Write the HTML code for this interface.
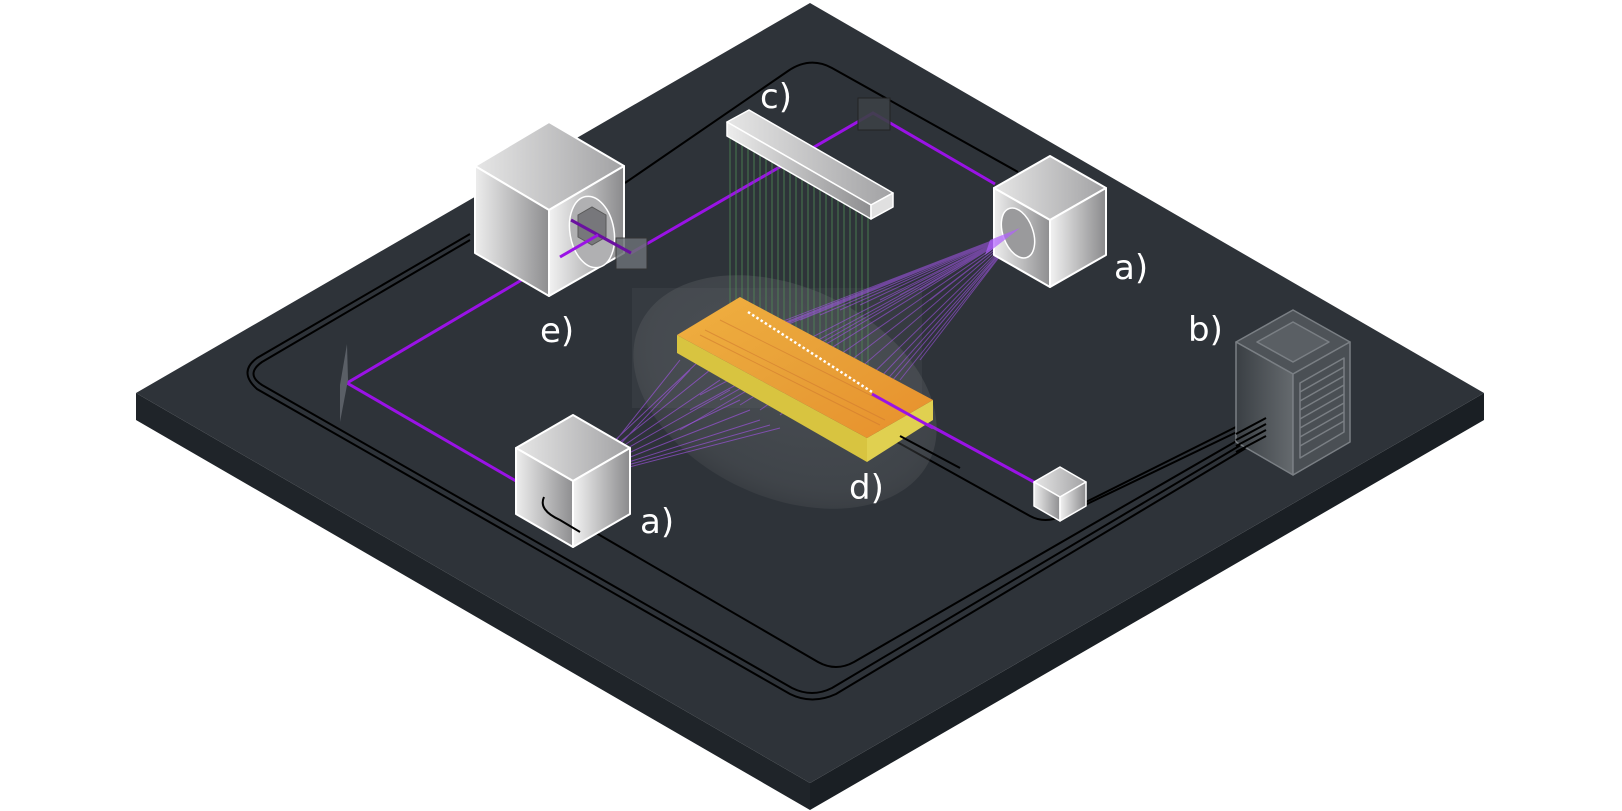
<!DOCTYPE html>
<html><head><meta charset="utf-8"><style>
html,body{margin:0;padding:0;background:#fff;}
svg{display:block;}
text{font-family:"DejaVu Sans","Liberation Sans",sans-serif;fill:#fff;font-size:34px;}
</style></head><body>
<svg width="1622" height="811" viewBox="0 0 1622 811" xmlns="http://www.w3.org/2000/svg">
<defs>
<linearGradient id="gl" x1="0" x2="1" y1="0" y2="0"><stop offset="0" stop-color="#ededed"/><stop offset="1" stop-color="#8e8e90"/></linearGradient>
<linearGradient id="gr" x1="0" x2="1" y1="0" y2="0"><stop offset="0" stop-color="#f2f2f2"/><stop offset="1" stop-color="#8a8a8c"/></linearGradient>
<linearGradient id="gt" x1="0" x2="1" y1="0" y2="0"><stop offset="0" stop-color="#e6e6e6"/><stop offset="1" stop-color="#a2a2a4"/></linearGradient>
<linearGradient id="rk" x1="0" x2="1"><stop offset="0" stop-color="#3a3f44"/><stop offset="1" stop-color="#656a6e"/></linearGradient>
<linearGradient id="chip" x1="0" x2="1" y1="0" y2="1"><stop offset="0" stop-color="#f0b040"/><stop offset="0.5" stop-color="#e8a038"/><stop offset="1" stop-color="#e8902c"/></linearGradient>
<radialGradient id="dome" cx="0.5" cy="0.45" r="0.55"><stop offset="0" stop-color="#666a6e" stop-opacity="0.45"/><stop offset="0.8" stop-color="#6a6e72" stop-opacity="0.3"/><stop offset="1" stop-color="#888" stop-opacity="0.12"/></radialGradient>
</defs>
<polygon points="136,393 810,783 810,810 136,420" fill="#1f2429"/>
<polygon points="810,783 1484,393 1484,420 810,810" fill="#1a1f24"/>
<polygon points="810,3 1484,393 810,783 136,393" fill="#2e3339"/>
<g fill="none" stroke="#000" stroke-width="2">
<path d="M 625,183 L 788,71 Q 810,56 832,68 L 1018,172"/>
<path d="M 470,240 L 262,362 Q 245,374 262,385 L 792,688 Q 812,698 832,688 L 1266,430"/>
<path d="M 470,234 L 257,358 Q 238,372 257,389 L 790,694 Q 812,705 836,694 L 1266,436"/>
<path d="M 542,487 Q 535,500 560,512 L 818,662 Q 836,672 854,662 L 1266,424"/>
<path d="M 872,428 L 1030,516 Q 1045,524 1062,516 L 1266,418"/>
<path d="M 1045,508 Q 1062,514 1080,505 L 1266,412"/>
</g>
<g fill="none" stroke="#9a12e6" stroke-width="3">
<polyline points="571,220 631,253 873,113 995,184"/>
<polyline points="598,235 347,383 516,481"/>
<line x1="872" y1="394" x2="1034" y2="482"/>
</g>
<rect x="858" y="98" width="32" height="32" fill="#3c4146" stroke="#222" stroke-width="1" opacity="0.9"/>
<polygon points="347,344 340,385 340,422 348,380" fill="#5a5f66"/>
<rect x="632" y="288" width="290" height="120" fill="#5a5e62" opacity="0.2"/>
<ellipse cx="785" cy="392" rx="160" ry="105" transform="rotate(25 785 392)" fill="url(#dome)"/>
<g stroke="#4f8a55" stroke-width="1" opacity="0.8">
<path d="M730,130V320 M736,133V322 M742,137V325 M748,140V328 M754,144V331 M760,147V334 M766,151V337 M772,154V340 M778,158V344 M784,161V347 M790,165V350 M796,168V354 M802,172V357 M808,175V360 M814,179V363 M820,182V367 M826,186V370 M832,189V373 M838,193V377 M844,196V380 M850,200V383 M856,203V386 M862,207V390 M868,210V393"/>
</g>
<g stroke="#a855f0" stroke-width="1" opacity="0.55" fill="none">
<path d="M1020,230L700,395 M1020,230L690,410 M1020,230L680,430 M1020,230L720,400 M1020,230L740,405 M1020,230L760,410 M1020,230L780,415 M1020,230L800,420 M1020,230L820,425 M1020,230L840,420 M1020,230L860,410 M1020,230L880,395 M1020,230L900,380 M1020,230L920,360 M1020,230L935,330 M1020,230L930,300 M1020,230L920,290 M1020,230L900,295 M1020,230L880,300 M1020,230L860,305 M1020,230L840,310 M1020,230L820,315 M1020,230L800,320 M1020,230L780,325 M1020,230L760,330 M1020,230L740,340 M1020,230L720,350 M1020,230L700,360"/>
</g>
<g stroke="#a855f0" stroke-width="1" opacity="0.6" fill="none">
<path d="M610,445L700,360 M610,450L710,370 M610,455L720,380 M610,458L730,390 M610,462L740,400 M610,465L750,410 M610,468L760,420 M610,470L770,425 M610,472L780,428 M610,455L690,370 M610,448L680,360"/>
</g>
<polygon points="677,335 867,438 867,462 677,353" fill="#d8c440"/>
<polygon points="867,438 933,400 933,420 867,462" fill="#e0d050"/>
<polygon points="740,297 933,400 867,438 677,335" fill="url(#chip)"/>
<g stroke="#d07a30" stroke-width="1" opacity="0.6">
<line x1="700" y1="335" x2="880" y2="425"/><line x1="705" y1="330" x2="885" y2="420"/>
<line x1="720" y1="320" x2="900" y2="410"/>
</g>
<line x1="748" y1="312" x2="872" y2="392" stroke="#fff" stroke-width="2.5" stroke-dasharray="2.5,2.5"/>
<line x1="872" y1="394" x2="933" y2="428" stroke="#9a12e6" stroke-width="3"/>
<line x1="900" y1="436" x2="960" y2="468" stroke="#000" stroke-width="2"/>
<g stroke="#fff" stroke-width="2" stroke-linejoin="round">
<polygon points="549,122 624,166 549,210 475,166" fill="url(#gt)"/>
<polygon points="475,166 549,210 549,296 475,253" fill="url(#gl)"/>
<polygon points="549,210 624,166 624,253 549,296" fill="url(#gr)"/>
</g>
<ellipse cx="592" cy="232" rx="22" ry="36" transform="rotate(-10 592 232)" fill="#b0b0b2" stroke="#fff" stroke-width="1.5"/>
<polygon points="578,215 592,207 606,215 606,237 592,245 578,237" fill="#6a6a6e" stroke="#444" opacity="0.8"/>
<rect x="616" y="238" width="31" height="31" fill="#6b7075" opacity="0.85" stroke="#333"/>
<polyline points="571,220 631,253" fill="none" stroke="#6a10a0" stroke-width="3"/>
<line x1="598" y1="235" x2="560" y2="257" stroke="#9a12e6" stroke-width="3"/>
<g stroke="#fff" stroke-width="1.5" stroke-linejoin="round">
<polygon points="727,122 749,110 893,193 871,205" fill="url(#gt)"/>
<polygon points="727,122 871,205 871,219 727,136" fill="url(#gl)"/>
<polygon points="871,205 893,193 893,207 871,219" fill="#e0e0e0"/>
</g>
<g stroke="#fff" stroke-width="2" stroke-linejoin="round">
<polygon points="1050,156 1106,188 1050,220 994,188" fill="url(#gt)"/>
<polygon points="994,188 1050,220 1050,287 994,255" fill="url(#gl)"/>
<polygon points="1050,220 1106,188 1106,255 1050,287" fill="url(#gr)"/>
</g>
<ellipse cx="1018" cy="233" rx="15" ry="26" transform="rotate(-20 1018 233)" fill="#9a9a9c" stroke="#fff" stroke-width="1.5"/>
<polygon points="1020,228 985,255 990,240" fill="#b060ff" opacity="0.7"/>
<g stroke="#fff" stroke-width="2" stroke-linejoin="round">
<polygon points="573,415 630,448 573,481 516,448" fill="url(#gt)"/>
<polygon points="516,448 573,481 573,547 516,514" fill="url(#gl)"/>
<polygon points="573,481 630,448 630,514 573,547" fill="url(#gr)"/>
</g>
<path d="M 544,497 Q 538,510 560,520 L 580,532" fill="none" stroke="#000" stroke-width="2"/>
<g stroke="#fff" stroke-width="1.5" stroke-linejoin="round">
<polygon points="1060,467 1086,482 1060,497 1034,482" fill="url(#gt)"/>
<polygon points="1034,482 1060,497 1060,521 1034,506" fill="url(#gl)"/>
<polygon points="1060,497 1086,482 1086,506 1060,521" fill="url(#gr)"/>
</g>
<g stroke="#7a7f84" stroke-width="1.5" stroke-linejoin="round">
<polygon points="1293,310 1350,342 1293,374 1236,342" fill="#4e5358"/>
<polygon points="1293,322 1329,342 1293,362 1257,342" fill="#5a5f64"/>
<polygon points="1236,342 1293,374 1293,475 1236,442" fill="url(#rk)"/>
<polygon points="1293,374 1350,342 1350,442 1293,475" fill="#4a4f54"/>
<polygon points="1300,383 1344,358 1344,432 1300,458" fill="none"/>
<path d="M1300,392L1344,367 M1300,401L1344,376 M1300,410L1344,385 M1300,419L1344,394 M1300,428L1344,403 M1300,437L1344,412 M1300,446L1344,421" fill="none"/>
</g>
<g fill="none" stroke="#000" stroke-width="2">
<path d="M1236,440L1266,424 M1236,446L1266,430 M1236,452L1266,436 M1236,434L1266,418"/>
</g>
<text x="760" y="108">c)</text>
<text x="540" y="342">e)</text>
<text x="1114" y="279">a)</text>
<text x="1188" y="341">b)</text>
<text x="849" y="499">d)</text>
<text x="640" y="533">a)</text>
</svg>
</body></html>
